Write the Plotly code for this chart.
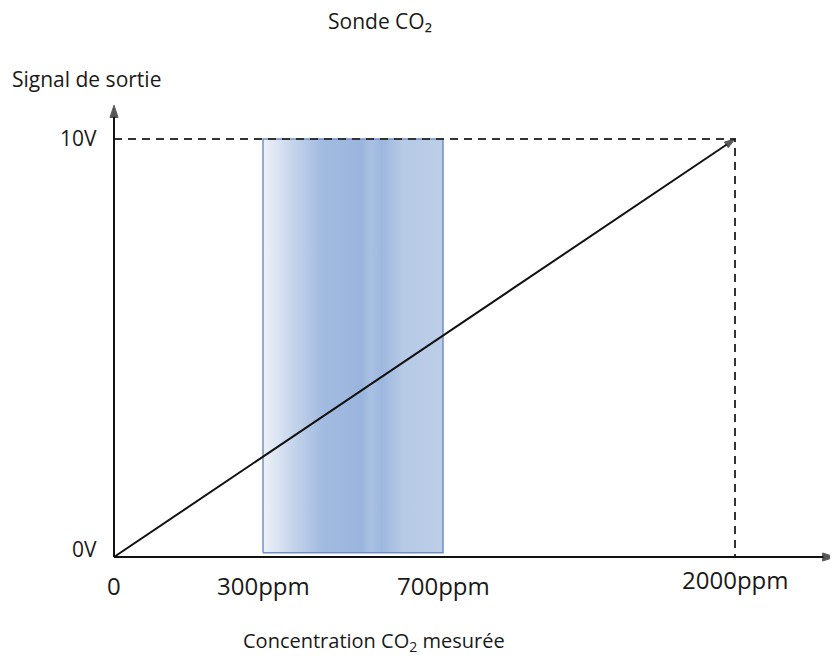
# Schematic of a CO2 probe output: 0-10V over 0-2000ppm, with the 300-700ppm band highlighted
import plotly.graph_objects as go

# x axis of the original is not to scale, so ticks sit at schematic positions
ppm_labels = ["0", "300ppm", "700ppm", "2000ppm"]
ppm_pos = [0, 149, 329, 621]
volt_labels = ["0V", "10V"]
volt_vals = [0, 10]

x_end = 721      # end of the x arrow (schematic units)
y_end = 10.81    # end of the y arrow (volts)
band_bottom = 0.1

FONT = "Open Sans"
TXT = "#1a1a1a"
INK = "#111111"

# page pixels: origin at (114, 557), 1 x-unit = 1px, 1V = 41.8px
X0, Y0, KY = 114, 557, 41.8
L, R, T, B = 100, 838, 70, 590   # plot area on the page, a bit wider than the axes

fig = go.Figure()

# highlighted band 300-700ppm
x0, x1 = ppm_pos[1], ppm_pos[2]
fig.add_trace(go.Scatter(
    x=[x0, x1, x1, x0, x0],
    y=[band_bottom, band_bottom, volt_vals[1], volt_vals[1], band_bottom],
    mode="lines",
    fill="toself",
    fillgradient=dict(
        type="horizontal",
        colorscale=[[0, "#eef2f9"], [0.18, "#c2d2ea"], [0.33, "#a2bbe0"],
                    [0.55, "#9ab5dd"], [0.6, "#a9c0e2"], [0.66, "#9cb7de"],
                    [0.78, "#b7cae6"], [1, "#bccde7"]],
    ),
    line=dict(color="#7190c5", width=1.5),
    hoverinfo="skip",
    showlegend=False,
))

# dashed guides at 10V / 2000ppm
fig.add_trace(go.Scatter(
    x=[ppm_pos[0], ppm_pos[3], ppm_pos[3]],
    y=[volt_vals[1], volt_vals[1], volt_vals[0]],
    mode="lines",
    line=dict(color="#333333", width=2, dash="8px,6px"),
    hoverinfo="skip",
    showlegend=False,
))

# output signal + the two axes, each ending with an arrow head
arrows = [
    ([ppm_pos[0], ppm_pos[3]], [volt_vals[0], volt_vals[1]], 11),
    ([0, x_end], [0, 0], 13),
    ([0, 0], [0, y_end], 13),
]
for xs, ys, head in arrows:
    fig.add_trace(go.Scatter(
        x=xs, y=ys,
        mode="lines+markers",
        line=dict(color=INK, width=2),
        marker=dict(symbol="arrow", angleref="previous", size=[0, head], color=INK,
                    line=dict(color=INK, width=1)),
        cliponaxis=False,
        hoverinfo="skip",
        showlegend=False,
    ))

# x labels
for lab, pos in zip(ppm_labels, ppm_pos):
    fig.add_annotation(
        x=pos, y=0, xref="x", yref="y", text=lab, showarrow=False,
        yanchor="middle", yshift=-28 if lab != "2000ppm" else -22,
        font=dict(family=FONT, size=24, color=TXT),
    )

# y labels
for lab, v in zip(volt_labels, volt_vals):
    fig.add_annotation(
        x=0, y=v, xref="x", yref="y", text=lab, showarrow=False,
        xanchor="right", yanchor="middle", xshift=-15, yshift=8 if v == 0 else 1,
        font=dict(family=FONT, size=21, color=TXT),
    )

# free texts, positioned in page pixels and converted below
fig.add_annotation(x=380, y=21, text="Sonde CO₂", xanchor="center",
                   font=dict(family=FONT, size=21, color=TXT))
fig.add_annotation(x=10, y=79, text="Signal de sortie", xanchor="left",
                   font=dict(family=FONT, size=21, color=TXT))
fig.add_annotation(x=374, y=641, text="Concentration CO<sub>2</sub> mesurée",
                   xanchor="center", font=dict(family=FONT, size=20, color=TXT))

# page has an 8px body margin, so the figure is 8px smaller than the window
fig.update_layout(
    width=830, height=655,
    margin=dict(l=L - 8, r=838 - R, t=T - 8, b=663 - B),
    paper_bgcolor="white", plot_bgcolor="white",
    xaxis=dict(range=[L - X0, R - X0], visible=False),
    yaxis=dict(range=[(Y0 - B) / KY, (Y0 - T) / KY], visible=False),
)

for a in fig.layout.annotations:
    if a.xref is None:
        a.update(xref="paper", yref="paper", showarrow=False, yanchor="middle",
                 x=(a.x - L) / (R - L), y=(B - a.y) / (B - T))

fig.write_html("out.html")
